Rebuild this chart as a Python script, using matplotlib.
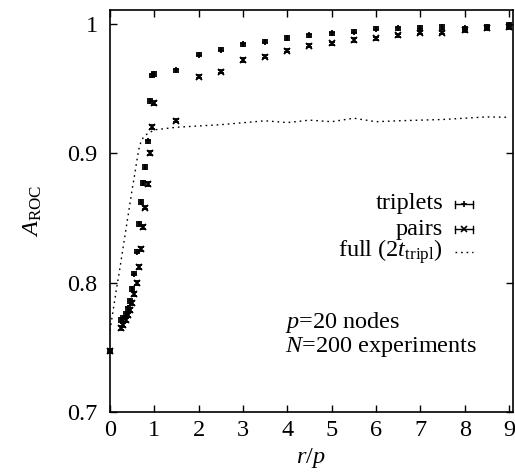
import matplotlib
matplotlib.use("Agg")
import matplotlib.pyplot as plt

plt.rcParams['font.family'] = ['Liberation Serif', 'DejaVu Serif']
plt.rcParams['mathtext.fontset'] = 'custom'
plt.rcParams['mathtext.rm'] = 'Liberation Serif'
plt.rcParams['mathtext.it'] = 'Liberation Serif:italic'
plt.rcParams['mathtext.bf'] = 'Liberation Serif:bold'

# ---- data ----
x_pts = [0.0, 0.25, 0.3, 0.35, 0.4, 0.45, 0.5, 0.55, 0.6, 0.65, 0.7, 0.75, 0.8,
         0.85, 0.9, 0.95, 1.0, 1.5, 2.0, 2.5, 3.0, 3.5, 4.0, 4.5, 5.0, 5.5,
         6.0, 6.5, 7.0, 7.5, 8.0, 8.5, 9.0]
triplets = [0.747, 0.771, 0.773, 0.776, 0.780, 0.786, 0.795, 0.807, 0.824, 0.845,
            0.862, 0.877, 0.889, 0.909, 0.940, 0.960, 0.961, 0.964, 0.976, 0.980,
            0.984, 0.986, 0.989, 0.991, 0.9926, 0.9938, 0.996, 0.9966, 0.997,
            0.9975, 0.9966, 0.9975, 0.999]
triplets_err = [0.0018, 0.0015, 0.0015, 0.0015, 0.0015, 0.0015, 0.0015, 0.0015,
                0.0015, 0.0015, 0.0015, 0.0015, 0.0015, 0.0015, 0.0015, 0.0015,
                0.0015, 0.0012, 0.0012, 0.0012, 0.0012, 0.0012, 0.0012, 0.0012,
                0.0012, 0.0012, 0.0012, 0.0012, 0.0012, 0.0012, 0.0012, 0.0012,
                0.0012]
pairs = [0.747, 0.765, 0.767, 0.771, 0.775, 0.779, 0.784, 0.791, 0.800, 0.812,
         0.826, 0.843, 0.858, 0.876, 0.900, 0.920, 0.939, 0.925, 0.959, 0.963,
         0.972, 0.9745, 0.979, 0.983, 0.985, 0.9874, 0.9887, 0.991, 0.993,
         0.993, 0.995, 0.9966, 0.9975]
pairs_err = [0.0018, 0.0015, 0.0015, 0.0015, 0.0015, 0.0015, 0.0015, 0.0015,
             0.0015, 0.0015, 0.0015, 0.0015, 0.0015, 0.0015, 0.0015, 0.0015,
             0.0015, 0.0012, 0.0012, 0.0012, 0.0012, 0.0012, 0.0012, 0.0012,
             0.0012, 0.0012, 0.0012, 0.0012, 0.0012, 0.0012, 0.0012, 0.0012,
             0.0012]
x_full = [0.0, 0.05, 0.1, 0.15, 0.2, 0.25, 0.3, 0.35, 0.4, 0.45, 0.5, 0.55, 0.6,
          0.65, 0.7, 0.75, 0.8, 0.85, 0.9, 0.95, 1.0, 1.5, 2.0, 2.5, 3.0, 3.5,
          4.0, 4.5, 5.0, 5.5, 6.0, 6.5, 7.0, 7.5, 8.0, 8.5, 9.0]
full = [0.763, 0.774, 0.785, 0.796, 0.806, 0.817, 0.828, 0.839, 0.850, 0.861,
        0.872, 0.882, 0.893, 0.903, 0.909, 0.912, 0.914, 0.915, 0.916, 0.917,
        0.918, 0.920, 0.921, 0.922, 0.9235, 0.925, 0.9236, 0.9255, 0.9243,
        0.927, 0.9243, 0.925, 0.9255, 0.926, 0.927, 0.928, 0.9277]

x_ticks = [0, 1, 2, 3, 4, 5, 6, 7, 8, 9]
y_ticks = [0.7, 0.8, 0.9, 1.0]
y_ticklabels = ['0.7', '0.8', '0.9', '1']

W, H = 515, 475
fig = plt.figure(figsize=(W / 100, H / 100), dpi=100)
L, R, T, B = 110, 512.5, 10, 412
ax = fig.add_axes([L / W, 1 - B / H, (R - L) / W, (B - T) / H])

FS = 17.5
ax.plot(x_full, full, color='black', lw=1.0, ls=(0, (1.2, 2.8)))
ax.errorbar(x_pts, triplets, yerr=triplets_err, fmt='+', color='black',
            ms=5, mew=1.3, elinewidth=1.0, capsize=2.2, capthick=1.0,
            clip_on=False)
ax.errorbar(x_pts, pairs, yerr=pairs_err, fmt='x', color='black',
            ms=4.5, mew=1.3, elinewidth=1.0, capsize=2.2, capthick=1.0,
            clip_on=False)

ax.set_xlim(0, 9.08)
ax.set_ylim(0.7, 1.0106)
ax.set_xticks(x_ticks)
ax.set_yticks(y_ticks)
ax.set_yticklabels(y_ticklabels)
ax.tick_params(direction='in', length=5, width=1.0, top=True, right=True,
               labelsize=FS)
ax.tick_params(axis='y', pad=9)
ax.tick_params(axis='x', pad=6)
for s in ax.spines.values():
    s.set_linewidth(1.2)

ax.set_xlabel(r'$r/p$', fontsize=FS)
ax.xaxis.set_label_coords(0.5, -0.085)
ax.set_ylabel(r'$A_{\mathrm{ROC}}$', fontsize=FS)
ax.yaxis.set_label_coords(-0.165, 0.5)

# legend (manual, gnuplot style)
def ax_xy(px, py):
    return ((px - L) / (R - L), (B - py) / (B - T))

leg = [('triplets', '+', 204), ('pairs', 'x', 229),
       (r'full ($\mathit{2}t_{\mathrm{tripl}}$)', None, 252)]
for label, mk, py in leg:
    tx, ty = ax_xy(443, py)
    ax.text(tx, ty, label, transform=ax.transAxes, ha='right', va='center',
            fontsize=FS)
    x0, _ = ax_xy(455, py)
    x1, _ = ax_xy(473, py)
    if mk is None:
        ax.plot([x0, x1], [ty, ty], transform=ax.transAxes, color='black',
                lw=1.0, ls=(0, (1.2, 2.8)), clip_on=False)
    else:
        ax.plot([x0, x1], [ty, ty], transform=ax.transAxes, color='black',
                lw=1.0, clip_on=False)
        cy0 = ty - 3.5 / (B - T)
        cy1 = ty + 3.5 / (B - T)
        ax.plot([x0, x0], [cy0, cy1], transform=ax.transAxes, color='black', lw=1.0)
        ax.plot([x1, x1], [cy0, cy1], transform=ax.transAxes, color='black', lw=1.0)
        ax.plot([(x0 + x1) / 2], [ty], transform=ax.transAxes, color='black',
                marker=mk, ms=4.5, mew=1.2, ls='none')

tx, ty = ax_xy(285, 328)
ax.text(tx, ty, r'$p$=20 nodes', transform=ax.transAxes, ha='left',
        va='baseline', fontsize=FS)
tx, ty = ax_xy(285, 352)
ax.text(tx, ty, r'$N$=200 experiments', transform=ax.transAxes, ha='left',
        va='baseline', fontsize=FS)

fig.savefig('out.png', dpi=100)
